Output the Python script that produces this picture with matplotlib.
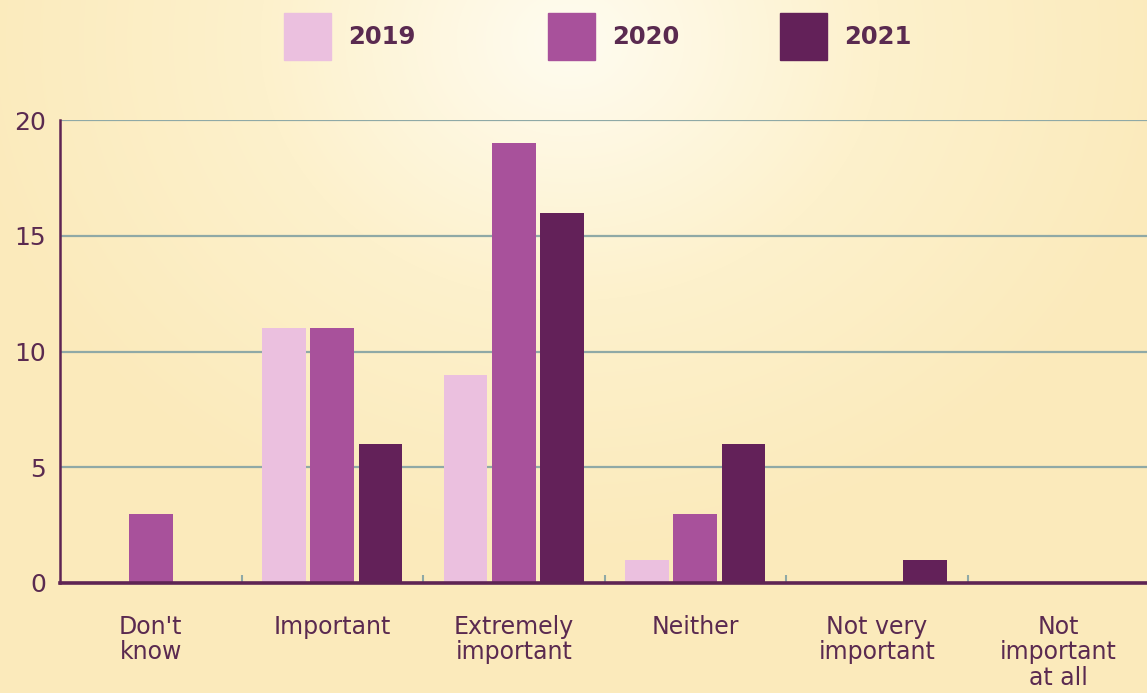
import numpy as np
import matplotlib.pyplot as plt
from matplotlib.colors import LinearSegmentedColormap
from matplotlib.patches import Rectangle

categories = ["Don't\nknow", "Important", "Extremely\nimportant", "Neither",
              "Not very\nimportant", "Not\nimportant\nat all"]
years = ["2019", "2020", "2021"]
values_2019 = [0, 11, 9, 1, 0, 0]
values_2020 = [3, 11, 19, 3, 0, 0]
values_2021 = [0, 6, 16, 6, 1, 0]

colors = ["#ebc0df", "#a8519b", "#632159"]
text_color = "#5a2a50"
grid_color = "#8fa9a6"

fig = plt.figure(figsize=(11.47, 6.93), dpi=100)

# soft radial glow behind everything
bg = fig.add_axes([0, 0, 1, 1], zorder=-10)
yy, xx = np.mgrid[0:693, 0:1147]
dist = np.sqrt(((xx - 570) / 620.0) ** 2 + ((yy - 40) / 520.0) ** 2)
glow = LinearSegmentedColormap.from_list("glow", ["#fffcf0", "#fdf1cc", "#fbeabb"])
bg.imshow(np.clip(dist, 0, 1), cmap=glow, aspect="auto", extent=[0, 1, 0, 1],
          origin="upper", vmin=0, vmax=1)
bg.axis("off")

ax = fig.add_axes([60 / 1147, 1 - 583 / 693, 1089 / 1147, (583 - 120) / 693])
ax.patch.set_alpha(0)

x = np.arange(len(categories))
width = 0.24
step = 0.265
for i, vals in enumerate([values_2019, values_2020, values_2021]):
    ax.bar(x + (i - 1) * step, vals, width, color=colors[i], zorder=3)

ax.set_xlim(-0.5, 5.5)
ax.set_ylim(0, 20)
ax.set_yticks([0, 5, 10, 15, 20])
ax.yaxis.grid(True, color=grid_color, linewidth=1.6, zorder=1)
ax.set_axisbelow(True)

ax.set_xticks(x)
ax.set_xticklabels(categories, fontsize=17, color=text_color, linespacing=1.07,
                   va="top")
ax.set_xticks(np.arange(0.5, 5.0, 1.0), minor=True)
ax.tick_params(axis="x", which="major", length=0, pad=23)
ax.tick_params(axis="x", which="minor", direction="in", length=6,
               width=1.5, color=grid_color)
ax.tick_params(axis="y", length=0, pad=10, labelsize=18, labelcolor=text_color)

for side in ["top", "right"]:
    ax.spines[side].set_visible(False)
ax.spines["left"].set_color("#5e2453")
ax.spines["left"].set_linewidth(1.8)
ax.spines["bottom"].set_color("#5e2453")
ax.spines["bottom"].set_linewidth(2.6)
ax.spines["bottom"].set_zorder(4)

# legend row across the top
legend_x = [284, 548, 780]
for px, label, col in zip(legend_x, years, colors):
    fig.patches.append(Rectangle((px / 1147, 1 - 60 / 693), 47 / 1147, 47 / 693,
                                 transform=fig.transFigure, color=col))
    fig.text((px + 64) / 1147, 1 - 37 / 693, label, fontsize=17.5, color=text_color,
             fontweight="bold", va="center", ha="left")

fig.savefig("out.png", dpi=100)
